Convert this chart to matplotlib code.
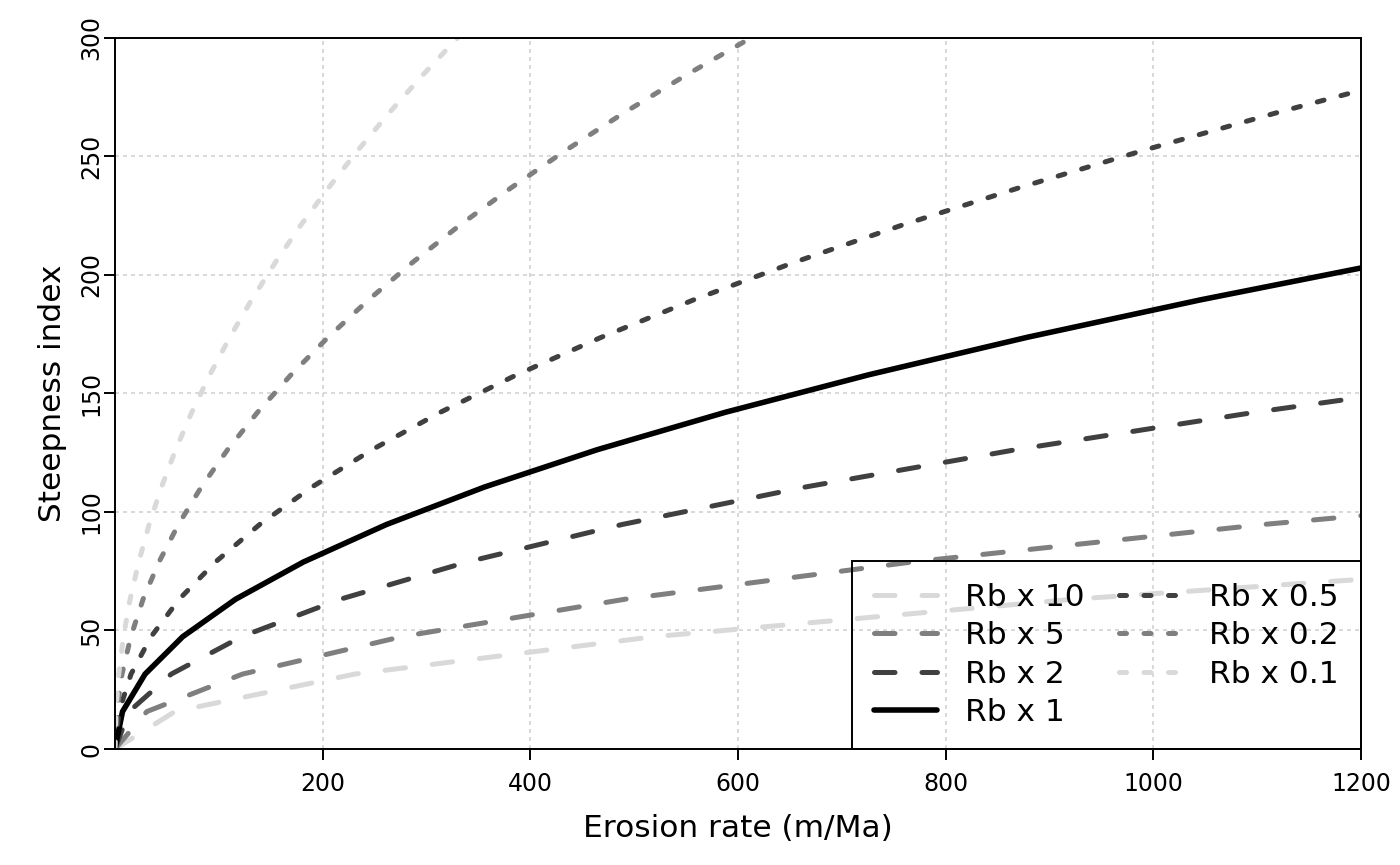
import matplotlib
matplotlib.use("Agg")
import matplotlib.pyplot as plt

# steepness index grid shared by every curve
ksn = [0, 15.8, 31.6, 47.4, 63.2, 78.9, 94.7, 110.5, 126.3, 142.1,
       157.9, 173.7, 189.5, 205.3, 221.1, 236.8, 252.6, 268.4, 284.2, 300]

# erosion rate (m/Ma) reached at each ksn step
rb_labels = ["Rb x 10", "Rb x 5", "Rb x 2", "Rb x 1", "Rb x 0.5", "Rb x 0.2", "Rb x 0.1"]
e_rb10 = [0, 57.7, 230.8, 519.3, 923.2, 1442.5]
e_rb5 = [0, 30.7, 122.8, 276.3, 491.2, 767.5, 1105.2, 1504.3]
e_rb2 = [0, 13.6, 54.2, 122.0, 217.0, 339.0, 488.2, 664.4, 867.8, 1098.4, 1356.0]
e_rb1 = [0, 7.3, 29.0, 65.3, 116.2, 181.5, 261.4, 355.7, 464.6, 588.1,
         726.0, 878.5, 1045.4, 1227.0]
e_rb05 = [0, 3.9, 15.5, 34.8, 61.9, 96.8, 139.3, 189.6, 247.7, 313.5,
          387.0, 468.3, 557.3, 654.0, 758.5, 870.8, 990.7, 1118.4, 1253.9]
e_rb02 = [0, 1.7, 6.8, 15.3, 27.1, 42.4, 61.1, 83.1, 108.5, 137.4,
          169.6, 205.2, 244.2, 286.6, 332.4, 381.6, 434.2, 490.1, 549.5, 612.3]
e_rb01 = [0, 0.9, 3.7, 8.2, 14.6, 22.9, 32.9, 44.8, 58.5, 74.0,
          91.4, 110.6, 131.6, 154.5, 179.1, 205.7, 234.0, 264.1, 296.1, 330.0]
series = [e_rb10, e_rb5, e_rb2, e_rb1, e_rb05, e_rb02, e_rb01]

light, mid, dark = "#d9d9d9", "#7f7f7f", "#404040"
longdash = (0, (4.1, 5.4))
dotted = (0, (1.4, 3.5))
styles = [
    dict(color=light, ls=longdash, lw=3.6),
    dict(color=mid, ls=longdash, lw=3.6),
    dict(color=dark, ls=longdash, lw=3.6),
    dict(color="black", ls="-", lw=4.0),
    dict(color=dark, ls=dotted, lw=3.6),
    dict(color=mid, ls=dotted, lw=3.6),
    dict(color=light, ls=dotted, lw=3.6),
]

fig = plt.figure(figsize=(14, 8.65), dpi=100)
ax = fig.add_axes([0.0821, 0.1341, 0.8900, 0.8220])

for lab, e, st in zip(rb_labels, series, styles):
    ax.plot(e, ksn[:len(e)], label=lab, dash_capstyle="round",
            solid_capstyle="round", **st)

ax.set_xlim(0, 1200)
ax.set_ylim(0, 300)
ax.set_xticks([200, 400, 600, 800, 1000, 1200])
ax.set_yticks([0, 50, 100, 150, 200, 250, 300])
ax.tick_params(axis="x", labelsize=17, length=8, width=1.4, pad=8.5)
ax.tick_params(axis="y", labelsize=17, length=8, width=1.4, pad=0.5)
for t in ax.get_yticklabels():
    t.set_rotation(90)
    t.set_va("center")
for s in ax.spines.values():
    s.set_linewidth(1.4)

ax.grid(True, color="#d3d3d3", lw=1.2, ls=(0, (2.4, 2.4)))
ax.set_axisbelow(True)

ax.set_xlabel("Erosion rate (m/Ma)", fontsize=22.5, labelpad=13)
ax.set_ylabel("Steepness index", fontsize=22.5, labelpad=9)

leg = ax.legend(loc="lower right", bbox_to_anchor=(1, 0), borderaxespad=0,
                ncol=2, fontsize=22.5, frameon=True, fancybox=False,
                handlelength=2.0, handletextpad=0.9, columnspacing=1.1,
                labelspacing=0.3, borderpad=0.7)
leg.get_frame().set_facecolor("none")
leg.get_frame().set_edgecolor("black")
leg.get_frame().set_linewidth(1.4)
leg.get_frame().set_alpha(None)

fig.savefig("out.png", dpi=100)
